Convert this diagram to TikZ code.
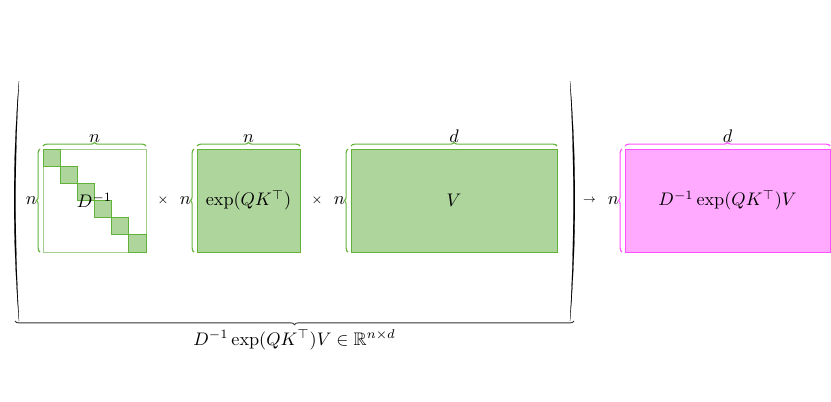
\documentclass[tikz,border=0pt]{standalone}
\usepackage{amsmath,amssymb}
\usetikzlibrary{decorations.pathreplacing}
\definecolor{gfill}{RGB}{174,213,156}
\definecolor{gdraw}{RGB}{98,178,58}
\definecolor{gline}{RGB}{160,205,140}
\definecolor{pfill}{RGB}{255,170,255}
\definecolor{pdraw}{RGB}{255,80,255}
\tikzset{
  gbrace/.style={draw=gdraw, line width=0.6pt, decorate, decoration={brace, amplitude=2pt}},
  pbrace/.style={draw=pdraw, line width=0.6pt, decorate, decoration={brace, amplitude=2pt}},
  kbrace/.style={draw=black!80, line width=0.5pt, decorate, decoration={brace, amplitude=2pt, mirror}},
  gbox/.style={draw=gdraw, fill=gfill, line width=0.5pt},
  pbox/.style={draw=pdraw, fill=pfill, line width=0.5pt},
  dsq/.style={draw=gdraw, fill=gfill, line width=0.5pt},
  lbl/.style={inner sep=0pt},
  op/.style={inner sep=0pt, font=\fontsize{7.5}{8}\selectfont},
  paren/.style={fill=black, draw=black, line width=0.1pt}
}
\begin{document}
\begin{tikzpicture}[x=0.55pt, y=-0.55pt]
\useasboundingbox (0,0) rectangle (831,401);
% big parentheses
\fill[paren] (19,81) .. controls (12.5,160) and (12.5,240) .. (19,321)
   .. controls (14.5,240) and (14.5,160) .. (19,81) -- cycle;
\fill[paren] (570,81) .. controls (576.5,160) and (576.5,240) .. (570,321)
   .. controls (574.5,240) and (574.5,160) .. (570,81) -- cycle;
% D^{-1}
\coordinate (Dtl) at (43,149);
\coordinate (Dbr) at (146,252);
\draw[draw=gline, line width=0.5pt] (Dtl) rectangle (Dbr);
\foreach \i in {0,...,5}{
  \draw[dsq] ({43+\i*103/6},{149+\i*103/6}) rectangle ++(103/6,103/6);
}
\node[lbl] (Dl) at (94.5,200.5) {$D^{-1}$};
\draw[gbrace] (43,146) -- (146,146) node[midway, above=1.5pt, lbl] (Dn) {$n$};
\draw[gbrace] (40,252) -- (40,149) node[midway, left=1.5pt, lbl] (Dm) {$n$};
\node[op] (t1) at (163,200.5) {$\times$};
% exp
\node[gbox, minimum width=103pt*0.55, minimum height=103pt*0.55, inner sep=0pt] (E) at (248.5,200.5) {$\exp(QK^\top)$};
\draw[gbrace] (197,146) -- (300,146) node[midway, above=1.5pt, lbl] (En) {$n$};
\draw[gbrace] (194,252) -- (194,149) node[midway, left=1.5pt, lbl] (Em) {$n$};
\node[op] (t2) at (317,200.5) {$\times$};
% V
\node[gbox, minimum width=206pt*0.55, minimum height=103pt*0.55, inner sep=0pt] (V) at (454,200.5) {$V$};
\draw[gbrace] (351,146) -- (557,146) node[midway, above=1.5pt, lbl] (Vd) {$d$};
\draw[gbrace] (348,252) -- (348,149) node[midway, left=1.5pt, lbl] (Vn) {$n$};
% arrow
\node[op, font=\fontsize{6}{7}\selectfont] (ar) at (589.5,200.5) {$\rightarrow$};
% result
\node[pbox, minimum width=205pt*0.55, minimum height=103pt*0.55, inner sep=0pt] (R) at (727.5,200.5) {$D^{-1}\exp(QK^\top)V$};
\draw[pbrace] (625,146) -- (830,146) node[midway, above=1.5pt, lbl] (Rd) {$d$};
\draw[pbrace] (622,252) -- (622,149) node[midway, left=1.5pt, lbl] (Rn) {$n$};
% bottom brace
\draw[kbrace] (15,321) -- (574,321) node[midway, below=4.5pt, lbl] (B) {$D^{-1}\exp(QK^\top)V\in\mathbb{R}^{n\times d}$};
\end{tikzpicture}
\end{document}
